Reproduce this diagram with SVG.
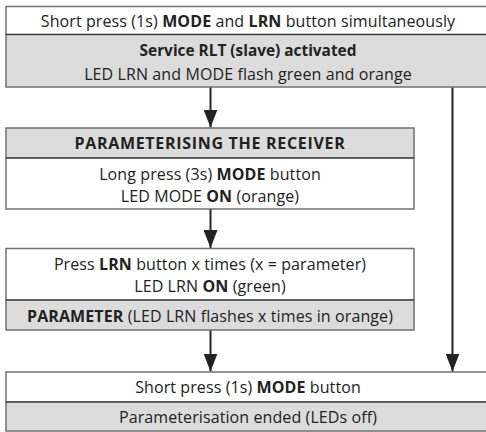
<svg xmlns="http://www.w3.org/2000/svg" width="486" height="432" viewBox="0 0 486 432">
<defs>
<style>
.box{stroke:#707070;stroke-width:1.5}
.w{fill:#ffffff}
.g{fill:#dcdcdc}
.div{stroke:#3a3a3a;stroke-width:1.2}
text{font-family:"Open Sans","Noto Sans",sans-serif;font-size:16px;letter-spacing:0.1px;fill:#222;text-anchor:middle}
.b{font-weight:bold}
.t{letter-spacing:0.7px}
.s{font-size:15.4px;letter-spacing:0}
.con{stroke:#222;stroke-width:2;fill:none}
</style>
<marker id="arr" viewBox="0 0 18 14" refX="18" refY="7" markerWidth="18" markerHeight="14" markerUnits="userSpaceOnUse" orient="auto">
<path d="M0,0 L18,7 L0,14 Z" fill="#222"/>
</marker>
</defs>
<rect width="486" height="432" fill="#fff"/>
<g id="connectors">
<line class="con" x1="210.5" y1="87" x2="210.5" y2="127.5" marker-end="url(#arr)"/>
<line class="con" x1="210.5" y1="209" x2="210.5" y2="248" marker-end="url(#arr)"/>
<line class="con" x1="210.5" y1="330" x2="210.5" y2="371.5" marker-end="url(#arr)"/>
<line class="con" x1="452.5" y1="87" x2="452.5" y2="371.5" marker-end="url(#arr)"/>
</g>
<g id="start">
<rect class="box w" x="6" y="6.5" width="484" height="28"/>
<rect class="box g" x="6" y="34.5" width="484" height="52.5"/>
<line class="div" x1="6" y1="34.5" x2="490" y2="34.5"/>
<text x="248" y="27">Short press (1s) <tspan class="b">MODE</tspan> and <tspan class="b">LRN</tspan> button simultaneously</text>
<text x="248" y="56" class="b s">Service RLT (slave) activated</text>
<text x="248" y="80">LED LRN and MODE flash green and orange</text>
</g>
<g id="param-receiver">
<rect class="box g" x="6" y="128" width="408" height="30"/>
<rect class="box w" x="6" y="158" width="408" height="51"/>
<line class="div" x1="6" y1="158" x2="414" y2="158"/>
<text x="210" y="149" class="b t">PARAMETERISING THE RECEIVER</text>
<text x="210" y="180">Long press (3s) <tspan class="b">MODE</tspan> button</text>
<text x="210" y="202">LED MODE <tspan class="b">ON</tspan> (orange)</text>
</g>
<g id="press-lrn">
<rect class="box w" x="6" y="248.5" width="408" height="51.5"/>
<rect class="box g" x="6" y="300" width="408" height="30"/>
<line class="div" x1="6" y1="300" x2="414" y2="300"/>
<text x="210" y="270">Press <tspan class="b">LRN</tspan> button x times (x = parameter)</text>
<text x="210" y="292">LED LRN <tspan class="b">ON</tspan> (green)</text>
<text x="210" y="322"><tspan class="b">PARAMETER</tspan> (LED LRN flashes x times in orange)</text>
</g>
<g id="end">
<rect class="box w" x="6" y="372" width="484" height="30"/>
<rect class="box g" x="6" y="402" width="484" height="29"/>
<line class="div" x1="6" y1="402" x2="490" y2="402"/>
<text x="248" y="393">Short press (1s) <tspan class="b">MODE</tspan> button</text>
<text x="248" y="423">Parameterisation ended (LEDs off)</text>
</g>
</svg>
